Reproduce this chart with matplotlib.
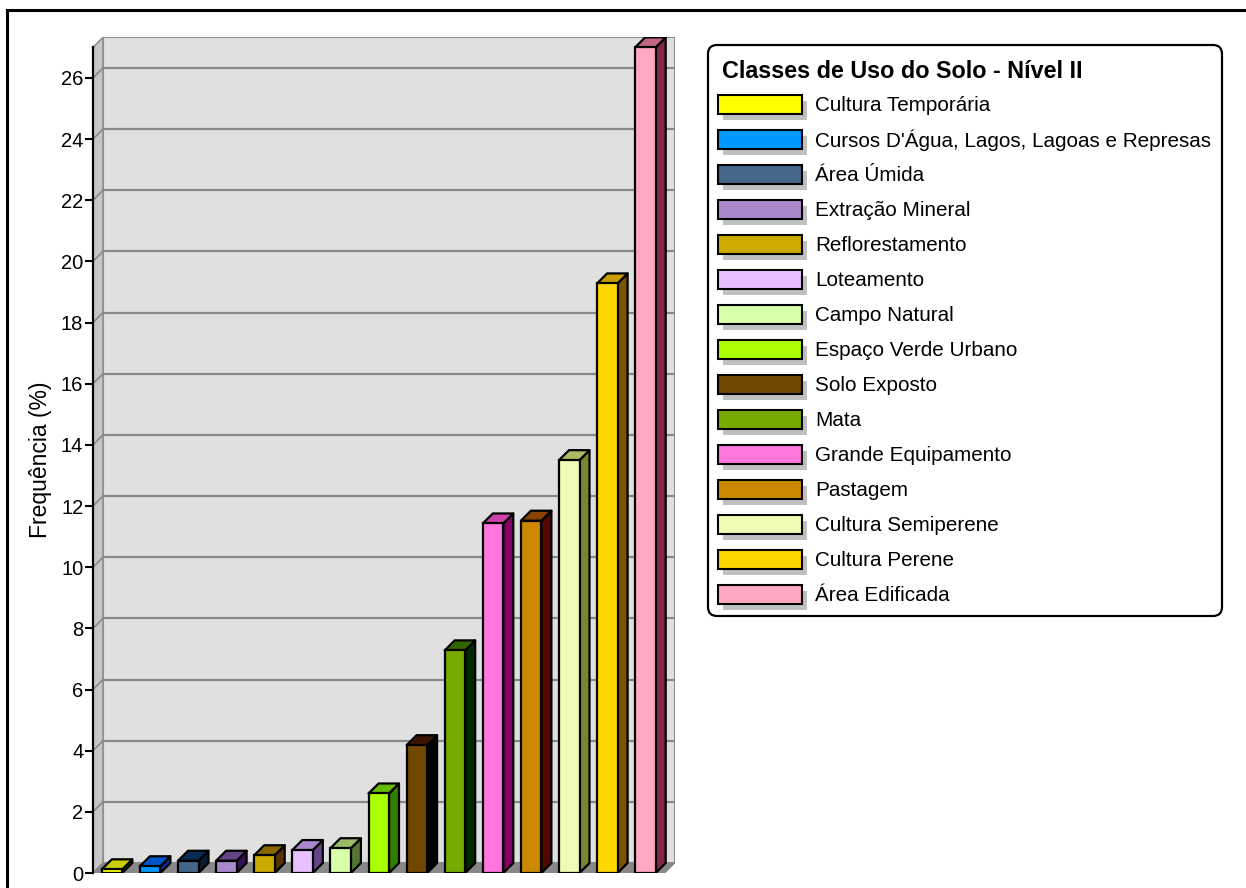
import matplotlib
matplotlib.use("Agg")
import matplotlib.pyplot as plt
from matplotlib.patches import Polygon, Rectangle, FancyBboxPatch
from matplotlib.lines import Line2D

plt.rcParams['font.family'] = ['Liberation Sans', 'DejaVu Sans']

categories = ["Cultura Temporária", "Cursos D'Água, Lagos, Lagoas e Represas", "Área Úmida",
              "Extração Mineral", "Reflorestamento", "Loteamento", "Campo Natural",
              "Espaço Verde Urbano", "Solo Exposto", "Mata", "Grande Equipamento",
              "Pastagem", "Cultura Semiperene", "Cultura Perene", "Área Edificada"]
values = [0.12, 0.22, 0.40, 0.40, 0.58, 0.75, 0.81, 2.6, 4.18, 7.28, 11.43, 11.52, 13.5, 19.28, 27.0]
front_colors = ["#FFFF00", "#0099FF", "#446688", "#AA88CC", "#CCAA00", "#E8C0FF", "#D8FFAA",
                "#AAFF00", "#704800", "#77AA00", "#FF77DD", "#CC8800", "#EEFBB4", "#FFD700", "#FFA8C0"]
top_colors = ["#CCCC00", "#0055CC", "#0A2A4F", "#664488", "#886600", "#AA88CC", "#99BB66",
              "#66BB00", "#3A1400", "#336600", "#CC44AA", "#884400", "#AABB66", "#C89B00", "#C06880"]
side_colors = ["#808000", "#003399", "#0A1A30", "#331155", "#553300", "#664488", "#557733",
               "#2E8000", "#000000", "#002800", "#880066", "#550800", "#778833", "#7A5500", "#802844"]
yticks = list(range(0, 27, 2))
ymax = 27
legend_title = "Classes de Uso do Solo - Nível II"
ylabel = "Frequência (%)"

W, H = 1246, 888
fig = plt.figure(figsize=(W / 100, H / 100), dpi=100)

def fx(px):
    return px / W

def fy(py):
    return 1 - py / H

# outer frame (only top and left visible)
fig.add_artist(Line2D([fx(7), fx(7)], [fy(10), fy(900)], color="black", lw=2.2, transform=fig.transFigure))
fig.add_artist(Line2D([fx(7), fx(1260)], [fy(10), fy(10)], color="black", lw=2.2, transform=fig.transFigure))

# plot axes (front plane from x=93 px, bottom y=873 px; depth offset 10 px)
n = len(values)
px_unit_x = 38.1
px_unit_y = 30.58
dx = 10 / px_unit_x
dy = 10 / px_unit_y
x0, x1 = -0.5, n - 0.5
ax_left, ax_bottom_px = 93, 873
ax_w = (x1 - x0 + dx) * px_unit_x
ax_h = (ymax + dy) * px_unit_y
ax = fig.add_axes([fx(ax_left), fy(ax_bottom_px), fx(ax_w), ax_h / H])
ax.set_xlim(x0, x1 + dx)
ax.set_ylim(0, ymax + dy)
for s in ax.spines.values():
    s.set_visible(False)
ax.set_xticks([])
ax.set_yticks(yticks)
ax.tick_params(axis='y', direction='out', length=6, width=1.5, color='black', labelsize=14.5, pad=1)
ax.set_ylabel(ylabel, fontsize=16.5)
ax.yaxis.set_label_coords(-41 / ax_w, 0.495)
ax.patch.set_visible(False)

wall_edge = "#909090"
# back wall
ax.add_patch(Rectangle((x0 + dx, dy), x1 - x0, ymax, facecolor="#E0E0E0", edgecolor=wall_edge, lw=1.5, zorder=1))
# side wall
ax.add_patch(Polygon([(x0, 0), (x0 + dx, dy), (x0 + dx, ymax + dy), (x0, ymax)], closed=True,
                     facecolor="#C6C6C6", edgecolor=wall_edge, lw=1.2, zorder=1))
# gridlines
for t in yticks[1:]:
    ax.plot([x0 + dx, x1 + dx], [t + dy, t + dy], color="#888888", lw=1.6, zorder=2)
    ax.plot([x0, x0 + dx], [t, t + dy], color="#888888", lw=1.2, zorder=2)
# floor
ax.add_patch(Polygon([(x0, 0), (x1, 0), (x1 + dx, dy), (x0 + dx, dy)], closed=True,
                     facecolor="#888888", edgecolor="#888888", lw=1, zorder=2))
# front axis line
ax.plot([x0, x0], [0, ymax], color="black", lw=1.6, zorder=5, clip_on=False)

# bars
bw = 20.5 / px_unit_x
for i, (v, fc, tc, sc) in enumerate(zip(values, front_colors, top_colors, side_colors)):
    l, r = i - bw / 2, i + bw / 2
    kw = dict(closed=True, edgecolor="black", lw=1.6, joinstyle="round", zorder=4)
    ax.add_patch(Polygon([(r, 0), (r + dx, dy), (r + dx, v + dy), (r, v)], facecolor=sc, **kw))
    ax.add_patch(Polygon([(l, v), (r, v), (r + dx, v + dy), (l + dx, v + dy)], facecolor=tc, **kw))
    ax.add_patch(Rectangle((l, 0), bw, v, facecolor=fc, edgecolor="black", lw=1.6, zorder=4))

# legend
lg_l, lg_t, lg_r, lg_b = 708, 45, 1222, 616
lg = fig.add_axes([0, 0, 1, 1])
lg.set_xlim(0, W)
lg.set_ylim(H, 0)
lg.axis("off")
lg.patch.set_visible(False)
lg.add_patch(FancyBboxPatch((lg_l, lg_t), lg_r - lg_l, lg_b - lg_t,
                            boxstyle="round,pad=0,rounding_size=9", facecolor="white",
                            edgecolor="black", lw=1.6))
lg.text(722, 71, legend_title, fontsize=16.8, fontweight="bold", va="center", ha="left")
row0, step = 104.5, 35.0
for i, (c, fc) in enumerate(zip(categories, front_colors)):
    yc = row0 + i * step
    lg.add_patch(Rectangle((723, yc - 9.5 + 6), 84, 19, facecolor="#C0C0C0", edgecolor="none"))
    lg.add_patch(Rectangle((718, yc - 9.5), 84, 19, facecolor=fc, edgecolor="black", lw=1.5))
    lg.text(815, yc + 1, c, fontsize=14.9, va="center", ha="left")

fig.savefig("out.png", dpi=100)
